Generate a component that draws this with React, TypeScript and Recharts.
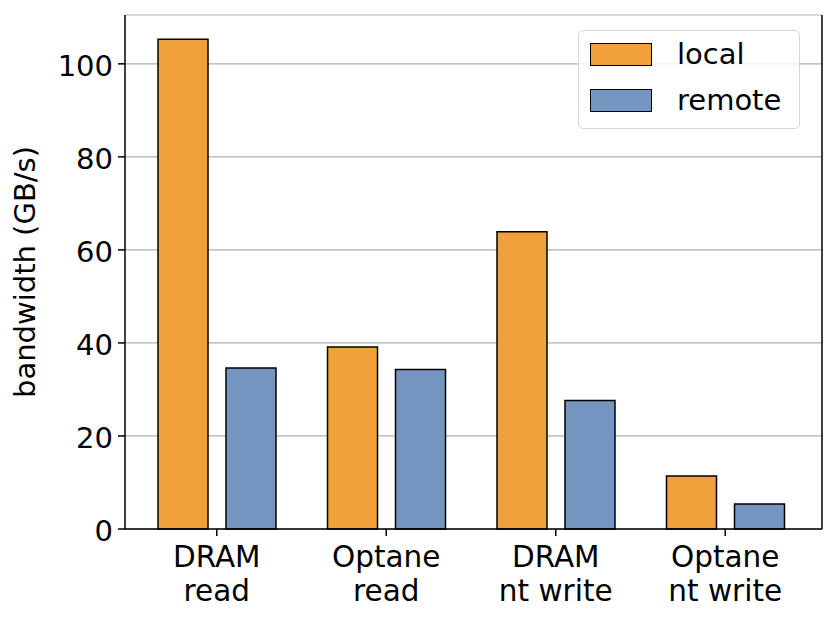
import React from "react";
import { BarChart, Bar, XAxis, YAxis, CartesianGrid } from "recharts";

const categories = ["DRAM\nread", "Optane\nread", "DRAM\nnt write", "Optane\nnt write"];
const localValues = [105.3, 39.1, 63.9, 11.4];
const remoteValues = [34.6, 34.3, 27.6, 5.4];
const yTicks = [0, 20, 40, 60, 80, 100];

const data = categories.map((name, i) => ({
  name,
  local: localValues[i],
  remote: remoteValues[i],
}));

const FONT = "DejaVu Sans";
const LOCAL_COLOR = "#F1A13A";
const REMOTE_COLOR = "#7596C0";

const CategoryTick = (props: any) => {
  const { x, y, payload } = props;
  const lines = String(payload.value).split("\n");
  return (
    <text x={x} y={y} textAnchor="middle" fontFamily={FONT} fontSize={29.5} fill="#000">
      {lines.map((line, i) => (
        <tspan key={i} x={x} dy={i === 0 ? 29 : 34}>
          {line}
        </tspan>
      ))}
    </text>
  );
};

const LegendBox = () => {
  const items = [
    { label: "local", color: LOCAL_COLOR },
    { label: "remote", color: REMOTE_COLOR },
  ];
  return (
    <div
      style={{
        position: "absolute",
        left: 578,
        top: 30,
        width: 222,
        height: 99,
        boxSizing: "border-box",
        border: "1.5px solid #d6d6d6",
        borderRadius: 5,
        background: "rgba(255,255,255,0.8)",
        padding: "12px 0 0 11px",
        fontFamily: FONT,
        fontSize: 29,
      }}
    >
      {items.map((it) => (
        <div key={it.label} style={{ display: "flex", alignItems: "center", height: 23, marginBottom: 23 }}>
          <div
            style={{
              width: 62,
              height: 23,
              boxSizing: "border-box",
              background: it.color,
              border: "1.5px solid #000",
              marginRight: 25,
            }}
          />
          <span style={{ lineHeight: "23px" }}>{it.label}</span>
        </div>
      ))}
    </div>
  );
};

export default function App() {
  return (
    <div style={{ position: "absolute", left: 0, top: 0, width: 831, height: 623, background: "#fff" }}>
      <BarChart
        width={831}
        height={623}
        data={data}
        margin={{ top: 15, right: 8, left: 0, bottom: 0 }}
        barSize={50}
        barGap={18}
      >
        <CartesianGrid horizontal vertical={false} stroke="#b0b0b0" strokeWidth={1.2} />
        <XAxis
          dataKey="name"
          height={94}
          padding={{ left: 7, right: 12 }}
          axisLine={{ stroke: "#000", strokeWidth: 1.5 }}
          tickLine={{ stroke: "#000", strokeWidth: 1.5 }}
          tickSize={7}
          tick={<CategoryTick />}
          interval={0}
        />
        <XAxis
          xAxisId="top"
          orientation="top"
          dataKey="name"
          height={0}
          tick={false}
          tickLine={false}
          axisLine={{ stroke: "#000", strokeWidth: 1.5 }}
        />
        <YAxis
          width={125}
          domain={[0, 110.5]}
          ticks={yTicks}
          interval={0}
          axisLine={{ stroke: "#000", strokeWidth: 1.5 }}
          tickLine={{ stroke: "#000", strokeWidth: 1.5 }}
          tickSize={7}
          tick={{ fontFamily: FONT, fontSize: 29, fill: "#000", dy: 2, dx: -3 }}
          label={{
            value: "bandwidth (GB/s)",
            angle: -90,
            position: "insideLeft",
            offset: 25,
            style: { fontFamily: FONT, fontSize: 29, fill: "#000", textAnchor: "middle" },
          }}
        />
        <YAxis
          yAxisId="right"
          orientation="right"
          width={1}
          domain={[0, 110.5]}
          tick={false}
          tickLine={false}
          axisLine={{ stroke: "#000", strokeWidth: 1.5 }}
        />
        <Bar dataKey="local" name="local" fill={LOCAL_COLOR} stroke="#000" strokeWidth={1.5} isAnimationActive={false} />
        <Bar dataKey="remote" name="remote" fill={REMOTE_COLOR} stroke="#000" strokeWidth={1.5} isAnimationActive={false} />
      </BarChart>
      <LegendBox />
    </div>
  );
}
